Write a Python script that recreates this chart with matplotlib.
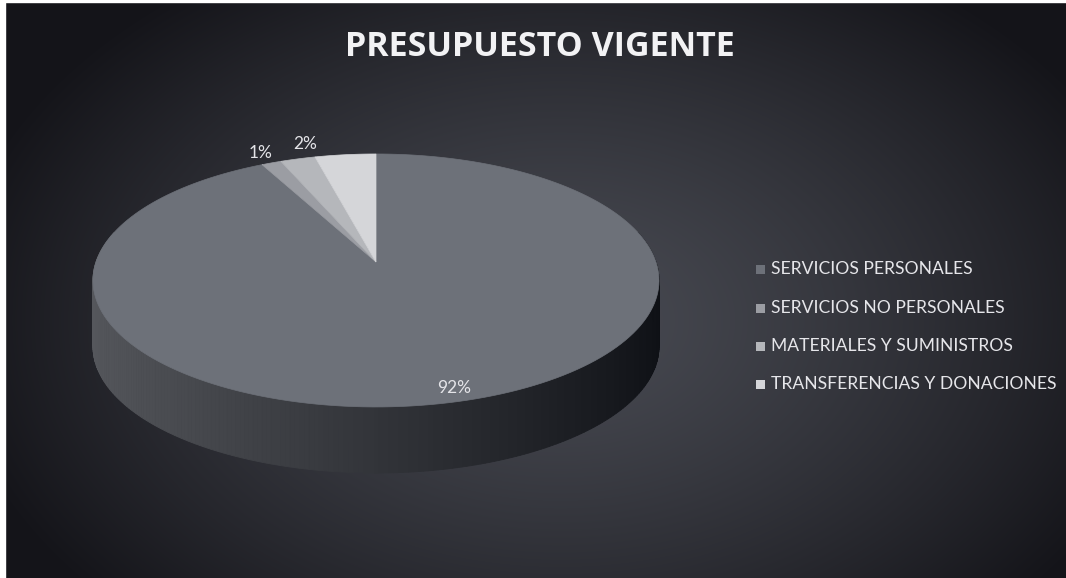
import numpy as np
import matplotlib.pyplot as plt
from matplotlib.patches import Polygon, Rectangle

# data
categories = ['SERVICIOS PERSONALES', 'SERVICIOS NO PERSONALES',
              'MATERIALES Y SUMINISTROS', 'TRANSFERENCIAS Y DONACIONES']
values = [92.4, 1.3, 2.3, 4.0]
show_label = [True, True, True, False]
title = 'PRESUPUESTO VIGENTE'

W, H = 1066, 578
fig = plt.figure(figsize=(W / 100, H / 100), dpi=100)
ax = fig.add_axes([0, 0, 1, 1])
ax.set_xlim(0, W)
ax.set_ylim(H, 0)
ax.axis('off')

# background: dark radial gradient
yy, xx = np.mgrid[0:H, 0:W]
r = np.sqrt(((xx - 560) / 620.0) ** 2 + ((yy - 320) / 420.0) ** 2)
t = np.clip(r, 0, 1) ** 1.3
inner = np.array([72, 74, 82]) / 255.0
outer = np.array([20, 20, 25]) / 255.0
bg = inner[None, None, :] * (1 - t[..., None]) + outer[None, None, :] * t[..., None]
ax.imshow(bg, extent=[0, W, H, 0], zorder=0, aspect='auto')

# scan margins
ax.add_patch(Rectangle((0, 0), 5, H, color='white', zorder=10))
ax.add_patch(Rectangle((0, 0), W, 2, color='white', zorder=10))

# 3d pie geometry (perspective tilted disc)
cx, cy = 376, 262
A, B, e = 280.0, 123.8, 0.146
depth = 66


def proj(theta, rad=1.0):
    s = np.sin(theta) * rad
    c = np.cos(theta) * rad
    d = 1 + e * c
    return cx + A * s / d, cy - B * c / d


top_cols = ['#6d7179', '#9b9da3', '#b5b7bb', '#d5d6d9']
fracs = np.array(values) / sum(values)
bounds = np.concatenate([[0], np.cumsum(fracs)]) * 2 * np.pi

# side wall of the big slice (front part)
th = np.linspace(np.pi * 0.42, np.pi * 1.58, 240)
segs = []
for a0, a1 in zip(th[:-1], th[1:]):
    x0, y0 = proj(a0)
    x1, y1 = proj(a1)
    s = np.sin((a0 + a1) / 2)
    k = (s + 1) / 2
    g = 86 * (1 - k) + 14 * k
    col = (g / 255, (g + 2) / 255, (g + 7) / 255)
    segs.append((np.cos((a0 + a1) / 2), [(x0, y0), (x1, y1), (x1, y1 + depth), (x0, y0 + depth)], col))
segs.sort(key=lambda q: -q[0])
for _, pts, col in segs:
    ax.add_patch(Polygon(pts, closed=True, facecolor=col, edgecolor=col, lw=0.6, zorder=2))

# top faces
for i in range(len(values)):
    ang = np.linspace(bounds[i], bounds[i + 1], 200)
    xs, ys = proj(ang)
    pts = [(cx, cy)] + list(zip(xs, ys))
    ax.add_patch(Polygon(pts, closed=True, facecolor=top_cols[i], edgecolor=top_cols[i],
                         lw=0.5, zorder=3))

# percentage labels
lab_rad = [0.92, 1.12, 1.15, 1.15]
lab_nudge = [-0.03, 0.0, 0.065, 0]
for i, v in enumerate(values):
    if not show_label[i]:
        continue
    mid = (bounds[i] + bounds[i + 1]) / 2 + lab_nudge[i]
    lx, ly = proj(mid, lab_rad[i])
    ax.text(lx, ly, f'{round(v)}%', ha='center', va='center', fontsize=12.5,
            color='#e4e4e8', family='Lato', zorder=5)

# title
ax.text(540, 47, title, ha='center', va='center', fontsize=24.5, fontweight='bold',
        color='#f2f2f4', family='Open Sans', zorder=5)

# legend
leg_y = [269, 308, 346, 384]
for i, name in enumerate(categories):
    ax.add_patch(Rectangle((756, leg_y[i] - 4.5), 9, 9, facecolor=top_cols[i],
                           edgecolor='none', zorder=5))
    ax.text(771, leg_y[i], name, ha='left', va='center', fontsize=12.6,
            color='#e6e6ea', family='Lato', zorder=5)

fig.savefig('out.png', dpi=100)
